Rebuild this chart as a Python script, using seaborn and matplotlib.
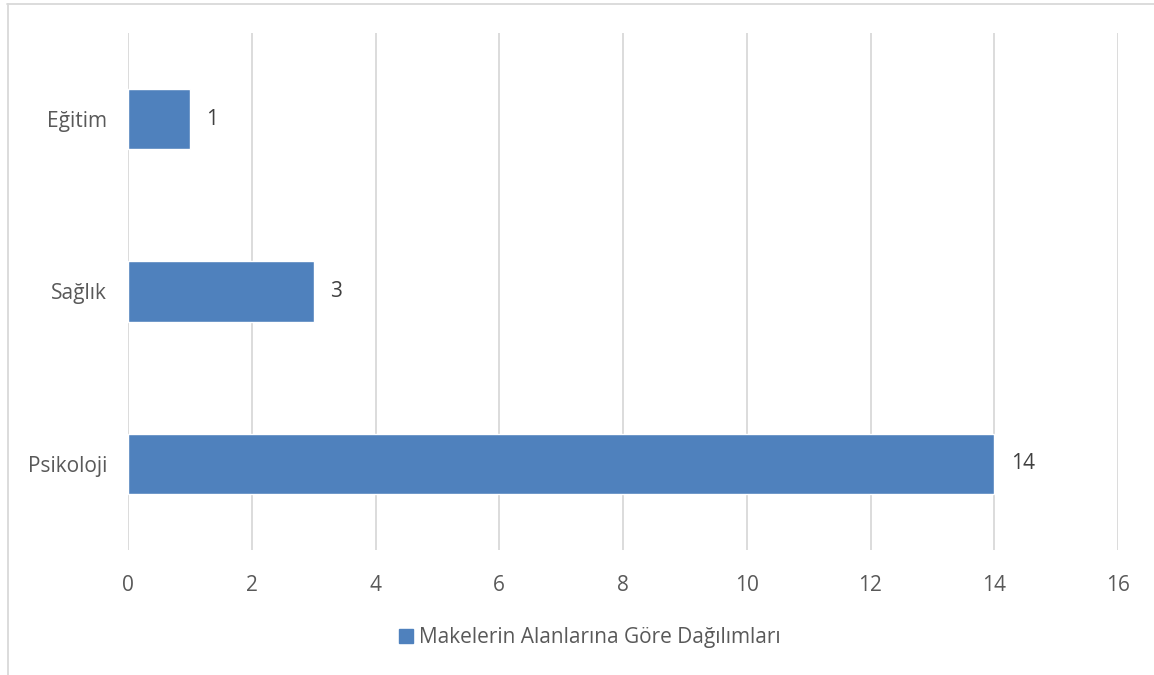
import matplotlib
matplotlib.use("Agg")
import matplotlib.pyplot as plt
import seaborn as sns
import pandas as pd
from matplotlib.lines import Line2D
from matplotlib.patches import Patch

categories = ["Eğitim", "Sağlık", "Psikoloji"]
values = [1, 3, 14]
series_name = "Makelerin Alanlarına Göre Dağılımları"
xticks = [0, 2, 4, 6, 8, 10, 12, 14, 16]

sns.set_theme(style="white")
plt.rcParams['font.family'] = ['Open Sans', 'DejaVu Sans']

df = pd.DataFrame({"Alan": categories, "Sayı": values})

fig = plt.figure(figsize=(11.54, 6.75), dpi=100)
ax = fig.add_axes([128/1154, 1-550/675, (1118-128)/1154, (550-33)/675])

bar_color = "#4F81BD"
sns.barplot(data=df, x="Sayı", y="Alan", order=categories, orient="h",
            color=bar_color, width=0.35, ax=ax, saturation=1)

fs = 15
ax.set_xlim(0, 16)
ax.set_ylim(2.5, -0.5)
ax.set_xticks(xticks)
ax.set_xticklabels([str(t) for t in xticks])
ax.xaxis.grid(True, color="#D9D9D9", linewidth=1.3)
ax.set_axisbelow(True)
for s in ax.spines.values():
    s.set_visible(False)
ax.tick_params(axis="both", length=0, colors="#595959", labelsize=fs)
ax.tick_params(axis="x", pad=18)
ax.tick_params(axis="y", pad=15)
ax.set_xlabel("")
ax.set_ylabel("")

for c in ax.containers:
    ax.bar_label(c, labels=[str(v) for v in values], padding=12,
                 fontsize=fs, color="#404040")

handles = [Patch(facecolor=bar_color, edgecolor=bar_color, label=series_name)]
fig.legend(handles=handles, loc="center", bbox_to_anchor=(590/1154, 1-638/675),
           frameon=False, fontsize=fs, handlelength=0.65, handleheight=0.65,
           handletextpad=0.3, labelcolor="#595959")

# partial outer border (top and left)
fig.add_artist(Line2D([7/1154, 1], [1-4/675, 1-4/675], color="#D9D9D9", linewidth=1.3, transform=fig.transFigure))
fig.add_artist(Line2D([8/1154, 8/1154], [0, 1-4/675], color="#D9D9D9", linewidth=1.3, transform=fig.transFigure))

fig.savefig("out.png", dpi=100, facecolor="white")
